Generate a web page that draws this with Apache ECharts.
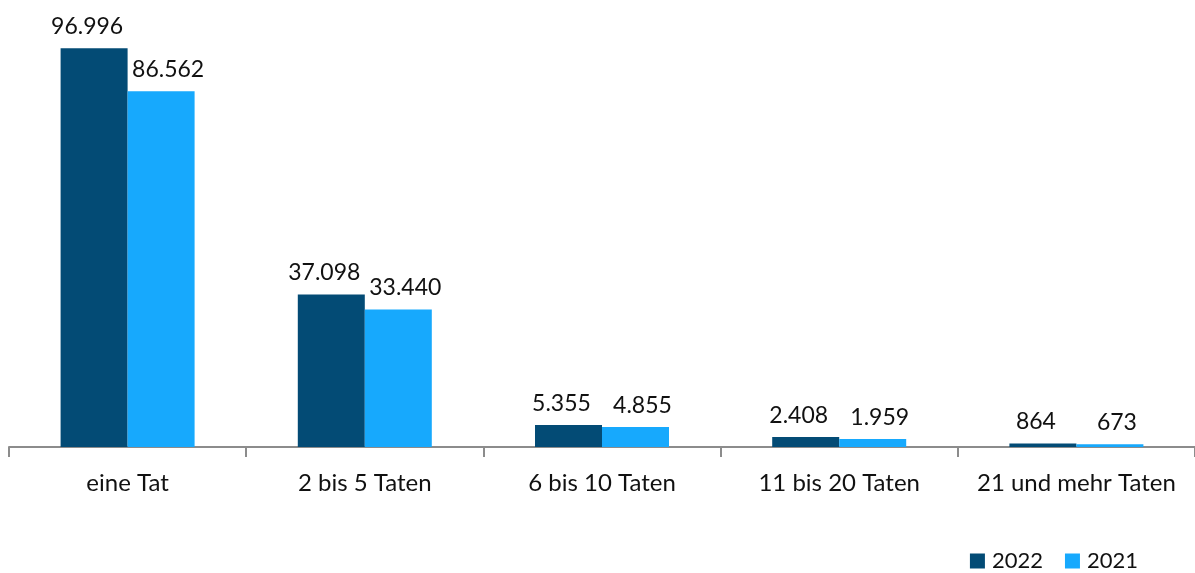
<!DOCTYPE html>
<html>
<head>
<meta charset="utf-8">
<script src="https://cdn.jsdelivr.net/npm/echarts@6/dist/echarts.min.js"></script>
<style>
  html, body { margin: 0; padding: 0; background: #fff; }
  #chart { width: 1195px; height: 573px; }
</style>
</head>
<body>
<div id="chart"></div>
<script>
const categories = ['eine Tat', '2 bis 5 Taten', '6 bis 10 Taten', '11 bis 20 Taten', '21 und mehr Taten']
const values2022 = [96996, 37098, 5355, 2408, 864]
const values2021 = [86562, 33440, 4855, 1959, 673]

const fontFamily = 'Lato, "Open Sans", sans-serif'
// German thousands separator
const fmt = (v) => String(v).replace(/\B(?=(\d{3})+(?!\d))/g, '.')

const chart = echarts.init(document.getElementById('chart'))

// value labels sit slightly outward from the bar pair, like the original
const labelStyle = (dx) => ({
  show: true,
  position: 'top',
  distance: 10,
  offset: [dx, 0],
  color: '#111',
  fontSize: 23,
  fontFamily,
  formatter: (p) => fmt(p.value),
})

chart.setOption({
  backgroundColor: '#fff',
  animation: false,
  grid: { left: 9, right: 0, top: 36, bottom: 126, containLabel: false },
  legend: {
    right: 52,
    bottom: -4,
    itemWidth: 15,
    itemHeight: 15,
    itemGap: 22,
    icon: 'rect',
    textStyle: { color: '#111', fontSize: 22, fontFamily, padding: [0, 0, 0, 2] },
    data: ['2022', '2021'],
  },
  xAxis: {
    type: 'category',
    data: categories,
    axisLine: { lineStyle: { color: '#8c8c8c', width: 2 } },
    axisTick: { show: true, interval: 0, length: 10, lineStyle: { color: '#8c8c8c', width: 2 } },
    axisLabel: { interval: 0, color: '#111', fontSize: 24, fontFamily, margin: 24 },
  },
  yAxis: {
    type: 'value',
    min: 0,
    max: 100000,
    show: false,
    splitLine: { show: false },
  },
  series: [
    {
      name: '2022',
      type: 'bar',
      data: values2022,
      barWidth: 67,
      barGap: '0%',
      itemStyle: { color: '#034b75' },
      label: labelStyle(-7),
    },
    {
      name: '2021',
      type: 'bar',
      data: values2021,
      barWidth: 67,
      itemStyle: { color: '#17a9fd' },
      label: labelStyle(7),
    },
  ],
})
</script>
</body>
</html>
